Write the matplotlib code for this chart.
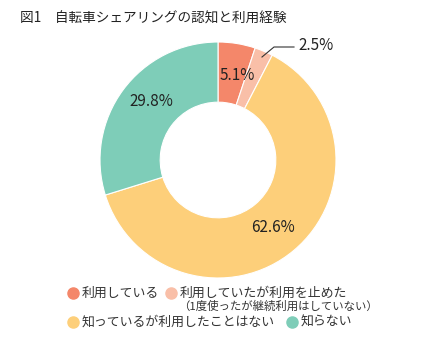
import matplotlib.pyplot as plt
from matplotlib.lines import Line2D

plt.rcParams['font.family'] = ['Noto Sans CJK JP', 'DejaVu Sans']

categories = ['利用している', '利用していたが利用を止めた', '知っているが利用したことはない', '知らない']
values = [5.1, 2.5, 62.6, 29.8]
colors = ['#F4876A', '#F9BFA8', '#FDCF7A', '#7ECDB8']

W, H = 435, 340
fig = plt.figure(figsize=(W / 100, H / 100), dpi=100)

# donut: centre (218,160) px, radius 118 px
cx, cy, r = 218, 160, 118
ax = fig.add_axes([(cx - r) / W, (H - cy - r) / H, 2 * r / W, 2 * r / H])
wedges, _ = ax.pie(values, colors=colors, startangle=90, counterclock=False,
                   radius=1.0, wedgeprops=dict(width=0.51, edgecolor='white', linewidth=0.8))
ax.set_xlim(-1, 1)
ax.set_ylim(-1, 1)
ax.set_aspect('equal')
ax.axis('off')

def px(x, y):
    return ((x - cx) / r, (cy - y) / r)

lab = dict(fontsize=11, color='#222222', ha='center', va='center')
ax.text(*px(237, 75), f'{values[0]}%', **lab)
ax.text(*px(151, 101), f'{values[3]}%', **lab)
ax.text(*px(273, 227), f'{values[2]}%', **lab)
ax.text(*px(298, 45), f'{values[1]}%', fontsize=11, color='#222222', ha='left', va='center')
lx, ly = zip(px(262, 57), px(274, 47), px(294, 47))
ax.plot(lx, ly, color='#333333', lw=0.8, clip_on=False)

fig.text(20 / W, 1 - 19 / H, '図1　自転車シェアリングの認知と利用経験', fontsize=9.8,
         color='#222222', va='center', ha='left')

# legend rows
def legend_item(x, y, color, text, size=9.3):
    fig.add_artist(Line2D([x / W], [1 - y / H], marker='o', markersize=8,
                          color=color, linestyle='none', transform=fig.transFigure))
    fig.text((x + 9) / W, 1 - y / H, text, fontsize=size, color='#333333',
             va='center', ha='left')

legend_item(73, 293, colors[0], categories[0])
legend_item(171, 293, colors[1], categories[1])
fig.text(178 / W, 1 - 306 / H, '（1度使ったが継続利用はしていない）', fontsize=8.2,
         color='#333333', va='center', ha='left')
legend_item(73, 322, colors[2], categories[2])
legend_item(292, 322, colors[3], categories[3])

fig.savefig('out.png', dpi=100)
